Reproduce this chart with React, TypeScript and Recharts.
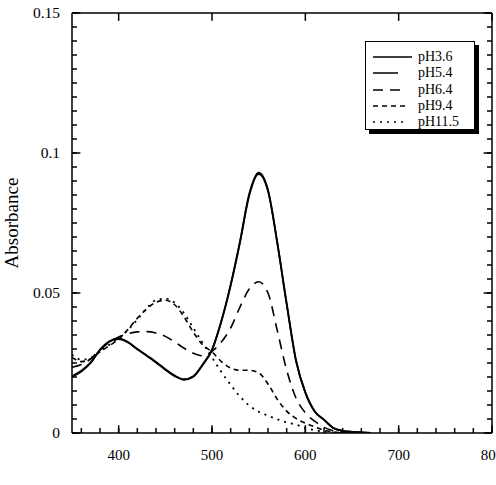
import { LineChart, Line, XAxis, YAxis, Legend, ReferenceLine } from 'recharts';

// wavelength (nm) and absorbance for each pH
const wavelength = [
  350, 360, 370, 380, 390, 400, 410, 420, 430, 440, 450, 460, 470, 480, 490, 500, 510,
  520, 530, 540, 550, 560, 570, 580, 590, 600, 610, 620, 630, 640, 650, 660, 670,
];
const pH36 = [
  0.0201, 0.022, 0.025, 0.0298, 0.0328, 0.0338, 0.0325, 0.03, 0.0277, 0.0254, 0.0228, 0.0205,
  0.0192, 0.0203, 0.0245, 0.0298, 0.04, 0.053, 0.0685, 0.0855, 0.093, 0.0868, 0.068, 0.0463,
  0.026, 0.0145, 0.0078, 0.0048, 0.0018, 0.0008, 0.0004, 0.0002, 0,
];
const pH54 = [
  0.0203, 0.0222, 0.0252, 0.0296, 0.0326, 0.0335, 0.0323, 0.0299, 0.0276, 0.0252, 0.0226, 0.0203,
  0.019, 0.0201, 0.0243, 0.0296, 0.0398, 0.0527, 0.068, 0.085, 0.0925, 0.0864, 0.0677, 0.046,
  0.0258, 0.0144, 0.0077, 0.0047, 0.0018, 0.0008, 0.0004, 0.0002, 0,
];
const pH64 = [
  0.0235, 0.0245, 0.0265, 0.0298, 0.0325, 0.0343, 0.0355, 0.0361, 0.0362, 0.0357, 0.0345, 0.0325,
  0.0303, 0.0285, 0.0276, 0.0292, 0.0325, 0.0375, 0.045, 0.0515, 0.054, 0.05, 0.0365, 0.0225,
  0.0125, 0.0072, 0.0042, 0.002, 0.0008, 0.0003, 0.0001, 0, 0,
];
const pH94 = [
  0.027, 0.0255, 0.0265, 0.029, 0.0312, 0.0335, 0.037, 0.041, 0.0443, 0.0467, 0.0474, 0.0458,
  0.0415, 0.036, 0.0315, 0.029, 0.0255, 0.0232, 0.0224, 0.0224, 0.0215, 0.0175, 0.012, 0.0078,
  0.0052, 0.0035, 0.0022, 0.001, 0.0004, 0.0001, 0, 0, 0,
];
const pH115 = [
  0.028, 0.0262, 0.0268, 0.0292, 0.0315, 0.0338, 0.0368, 0.0405, 0.0445, 0.0475, 0.048, 0.0465,
  0.0428, 0.0375, 0.0322, 0.027, 0.0218, 0.0172, 0.013, 0.0098, 0.0076, 0.0062, 0.0049, 0.0038,
  0.003, 0.0018, 0.001, 0.0005, 0.0002, 0, 0, 0, 0,
];

const xMajor = [400, 500, 600, 700, 800];
const yMajor = [0, 0.05, 0.1, 0.15];
const X_DOMAIN: [number, number] = [350, 800];
const Y_DOMAIN: [number, number] = [0, 0.15];

const series = [
  { key: 'pH36', name: 'pH3.6', values: pH36, dash: undefined, width: 1.8, legendLen: 39 },
  { key: 'pH54', name: 'pH5.4', values: pH54, dash: undefined, width: 1.8, legendLen: 25 },
  { key: 'pH64', name: 'pH6.4', values: pH64, dash: '10 7', width: 1.6, legendLen: 30 },
  { key: 'pH94', name: 'pH9.4', values: pH94, dash: '5 4', width: 1.6, legendLen: 34 },
  { key: 'pH115', name: 'pH11.5', values: pH115, dash: '2 5', width: 1.8, legendLen: 34 },
];

const data = wavelength.map((wl, i) => {
  const row: Record<string, number> = { wl };
  series.forEach((s) => (row[s.key] = s.values[i]));
  return row;
});

const steps = (from: number, to: number, step: number) => {
  const out: number[] = [];
  for (let v = from; v <= to + step / 2; v += step) out.push(Math.round(v * 10000) / 10000);
  return out;
};
const xTicks = steps(360, 800, 20);
const yTicks = steps(0, 0.15, 0.005);

const FONT = '"Liberation Serif", "Times New Roman", serif';
const isMajor = (v: number, list: number[]) => list.some((m) => Math.abs(m - v) < 1e-6);

// all ticks point inward (negative tickSize); majors get an extra-long mark
const MINOR = -5;
const AXIS_LINE = { stroke: '#000', strokeWidth: 1.5 };
const TICK_LINE = { stroke: '#000', strokeWidth: 1.5 };

const majorMarks = [
  ...xMajor.flatMap((x) => [
    [{ x, y: Y_DOMAIN[0] }, { x, y: Y_DOMAIN[0] + 0.0028 }],
    [{ x, y: Y_DOMAIN[1] }, { x, y: Y_DOMAIN[1] - 0.0028 }],
  ]),
  ...yMajor.flatMap((y) => [
    [{ x: X_DOMAIN[0], y }, { x: X_DOMAIN[0] + 9, y }],
    [{ x: X_DOMAIN[1], y }, { x: X_DOMAIN[1] - 9, y }],
  ]),
];

const BottomLabel = ({ x, y, payload }: any) =>
  isMajor(payload.value, xMajor) ? (
    <text x={x} y={y + 27} textAnchor="middle" fontSize={15} fontFamily={FONT} fill="#000">
      {payload.value}
    </text>
  ) : (
    <g />
  );

const LeftLabel = ({ x, y, payload }: any) =>
  isMajor(payload.value, yMajor) ? (
    <text x={x - 12} y={y + 5} textAnchor="end" fontSize={15.5} fontFamily={FONT} fill="#000">
      {String(payload.value)}
    </text>
  ) : (
    <g />
  );

const NoLabel = () => <g />;

const LegendBox = () => (
  <div
    style={{
      width: 110,
      height: 89,
      boxSizing: 'border-box',
      border: '1px solid #000',
      background: '#fff',
      boxShadow: '4px 4px 0 #000',
      paddingTop: 7,
      fontFamily: FONT,
      fontSize: 14,
      color: '#000',
    }}
  >
    {series.map((s) => (
      <div key={s.key} style={{ display: 'flex', alignItems: 'center', height: 16.3 }}>
        <svg width={52} height={16} style={{ flex: 'none' }}>
          <line x1={7} x2={7 + s.legendLen} y1={8} y2={8} stroke="#000" strokeWidth={1.5} strokeDasharray={s.dash} />
        </svg>
        <span style={{ lineHeight: '16px' }}>{s.name}</span>
      </div>
    ))}
  </div>
);

export default function App() {
  return (
    <div style={{ position: 'absolute', left: 0, top: 0, width: 496, height: 485, background: '#fff' }}>
      <LineChart width={496} height={485} data={data} margin={{ top: 0, right: 0, bottom: 0, left: 0 }}>
        <XAxis
          dataKey="wl"
          type="number"
          domain={X_DOMAIN}
          ticks={xTicks}
          interval={0}
          height={52}
          tickSize={MINOR}
          tickMargin={-MINOR}
          tickLine={TICK_LINE}
          tick={<BottomLabel />}
          axisLine={AXIS_LINE}
          allowDataOverflow
        />
        <XAxis
          xAxisId="top"
          orientation="top"
          type="number"
          domain={X_DOMAIN}
          ticks={xTicks}
          interval={0}
          height={13}
          tickSize={MINOR}
          tickLine={TICK_LINE}
          tick={<NoLabel />}
          axisLine={AXIS_LINE}
          allowDataOverflow
        />
        <YAxis
          type="number"
          domain={Y_DOMAIN}
          ticks={yTicks}
          interval={0}
          width={72}
          tickSize={MINOR}
          tickMargin={-MINOR}
          tickLine={TICK_LINE}
          tick={<LeftLabel />}
          axisLine={AXIS_LINE}
          label={{
            value: 'Absorbance',
            angle: -90,
            position: 'insideLeft',
            dx: 6,
            style: { fontFamily: FONT, fontSize: 19, fill: '#000', textAnchor: 'middle' },
          }}
          allowDataOverflow
        />
        <YAxis
          yAxisId="right"
          orientation="right"
          type="number"
          domain={Y_DOMAIN}
          ticks={yTicks}
          interval={0}
          width={4}
          tickSize={MINOR}
          tickLine={TICK_LINE}
          tick={<NoLabel />}
          axisLine={AXIS_LINE}
          allowDataOverflow
        />
        {majorMarks.map((seg, i) => (
          <ReferenceLine key={i} segment={seg} stroke="#000" strokeWidth={1.5} ifOverflow="visible" />
        ))}
        <Legend
          layout="horizontal"
          verticalAlign="middle"
          align="center"
          content={() => <LegendBox />}
          wrapperStyle={{ position: 'absolute', left: 365, top: 41, width: 110, height: 89 }}
        />
        {series.map((s) => (
          <Line
            key={s.key}
            dataKey={s.key}
            name={s.name}
            type="monotone"
            stroke="#000"
            strokeWidth={s.width}
            strokeDasharray={s.dash}
            dot={false}
            activeDot={false}
            isAnimationActive={false}
          />
        ))}
      </LineChart>
    </div>
  );
}
